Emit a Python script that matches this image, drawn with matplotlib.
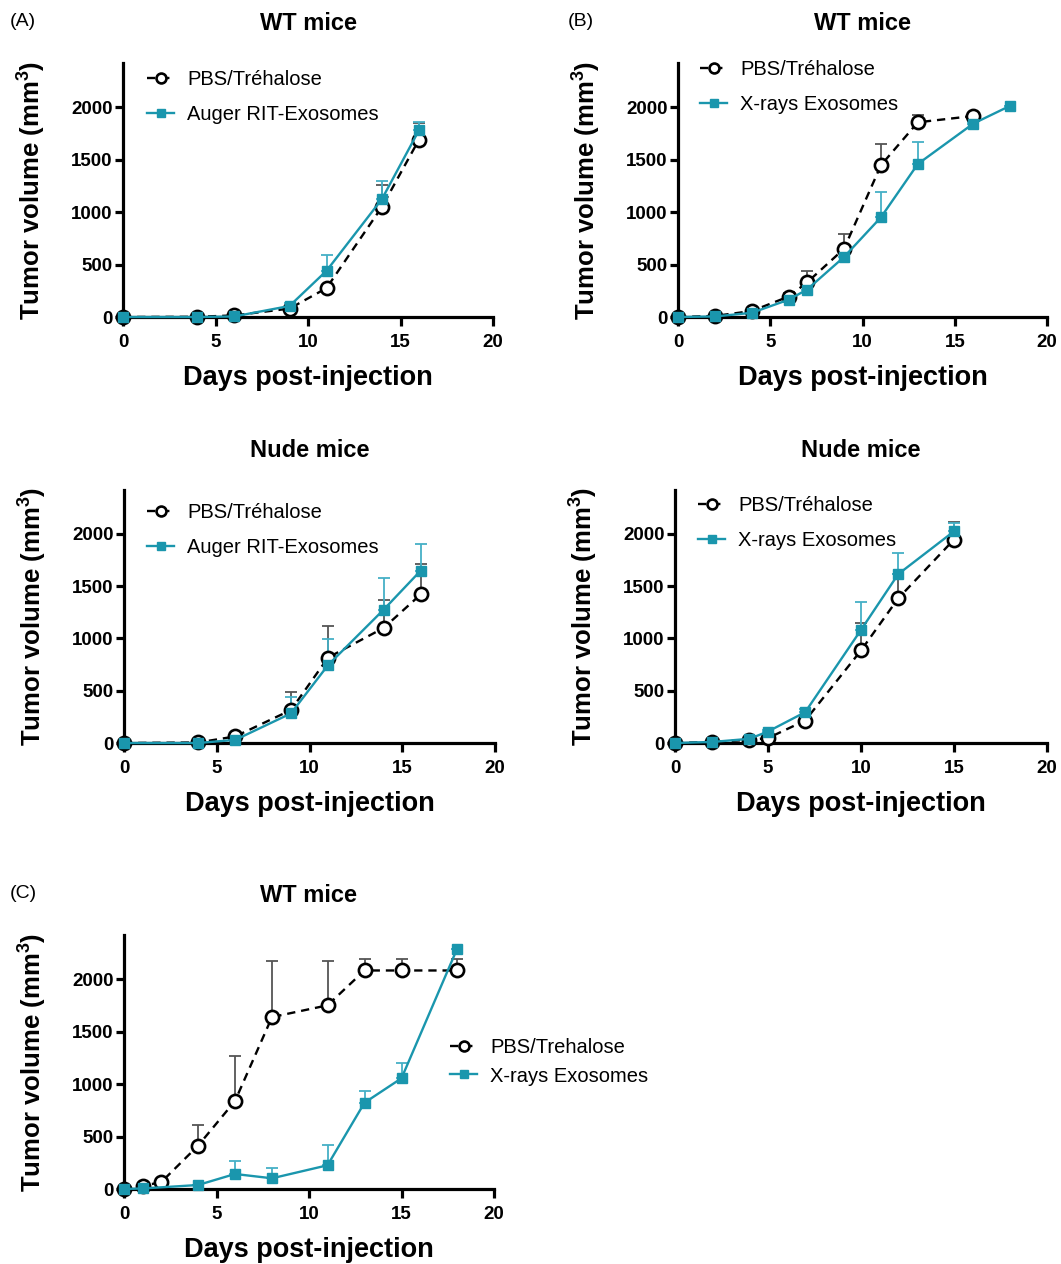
import matplotlib
matplotlib.use("Agg")
import matplotlib.pyplot as plt
import numpy as np

plt.rcParams['font.family'] = ['Liberation Sans', 'DejaVu Sans']
plt.rcParams['mathtext.fontset'] = 'custom'
plt.rcParams['mathtext.rm'] = 'Liberation Sans'
plt.rcParams['mathtext.bf'] = 'Liberation Sans:bold'

# ---------------- data ----------------
# Panel A top: WT mice, Auger RIT-Exosomes
a1_days_pbs = [0, 4, 6, 9, 11, 14, 16]
a1_pbs = [0, 2, 15, 80, 275, 1050, 1690]
a1_pbs_top = [0, 2, 15, 95, 300, 1255, 1850]
a1_days_trt = [0, 4, 6, 9, 11, 14, 16]
a1_trt = [0, 0, 5, 105, 440, 1125, 1780]
a1_trt_top = [0, 0, 5, 130, 590, 1295, 1862]

# Panel B top: WT mice, X-rays Exosomes
b1_days_pbs = [0, 2, 4, 6, 7, 9, 11, 13, 16]
b1_pbs = [0, 10, 57, 195, 330, 650, 1446, 1855, 1915]
b1_pbs_top = [0, 10, 65, 225, 434, 791, 1650, 1921, 1930]
b1_days_trt = [0, 2, 4, 6, 7, 9, 11, 13, 16, 18]
b1_trt = [0, 5, 40, 165, 262, 572, 950, 1458, 1842, 2012]
b1_trt_top = [0, 5, 45, 180, 300, 620, 1195, 1665, 1860, 2015]

# Panel A middle: Nude mice, Auger RIT-Exosomes
a2_days_pbs = [0, 4, 6, 9, 11, 14, 16]
a2_pbs = [0, 5, 63, 315, 817, 1101, 1422]
a2_pbs_top = [0, 5, 70, 490, 1122, 1369, 1716]
a2_days_trt = [0, 4, 6, 9, 11, 14, 16]
a2_trt = [0, 0, 30, 283, 745, 1276, 1650]
a2_trt_top = [0, 0, 35, 442, 998, 1574, 1905]

# Panel B middle: Nude mice, X-rays Exosomes
b2_days_pbs = [0, 2, 4, 5, 7, 10, 12, 15]
b2_pbs = [0, 10, 30, 47, 215, 885, 1383, 1946]
b2_pbs_top = [0, 10, 35, 55, 230, 1149, 1620, 2111]
b2_days_trt = [0, 2, 4, 5, 7, 10, 12, 15]
b2_trt = [0, 10, 40, 110, 295, 1082, 1615, 2025]
b2_trt_top = [0, 10, 45, 120, 325, 1345, 1820, 2100]

# Panel C: WT mice, X-rays Exosomes
c_days_pbs = [0, 1, 2, 4, 6, 8, 11, 13, 15, 18]
c_pbs = [0, 32, 63, 412, 838, 1638, 1750, 2082, 2082, 2082]
c_pbs_top = [0, 32, 63, 610, 1268, 2168, 2168, 2188, 2188, 2188]
c_days_trt = [0, 1, 4, 6, 8, 11, 13, 15, 18]
c_trt = [0, 5, 38, 143, 102, 226, 822, 1055, 2286]
c_trt_top = [0, 5, 38, 264, 200, 415, 936, 1200, 2286]

xticks = [0, 5, 10, 15, 20]
yticks = [0, 500, 1000, 1500, 2000]

W, H = 1061, 1264
TEAL = '#1a96ad'
TEAL_ERR = '#45b0c6'
GRAY_ERR = '#555555'

fig = plt.figure(figsize=(W / 100, H / 100), dpi=100)


def make_ax(left, right, top, zero):
    return fig.add_axes([left / W, 1 - zero / H, (right - left) / W, (zero - top) / H])


def draw(ax, dp, vp, tp, dt, vt, tt, pbs_label, trt_label, title,
         leg_x, leg_y, leg_space):
    dp = np.array(dp); vp = np.array(vp, float); tp = np.array(tp, float)
    dt = np.array(dt); vt = np.array(vt, float); tt = np.array(tt, float)
    ax.errorbar(dp, vp, yerr=[np.zeros_like(vp), tp - vp], fmt='none',
                ecolor=GRAY_ERR, elinewidth=1.3, capsize=4.5, capthick=1.3,
                zorder=2, clip_on=False)
    ax.errorbar(dt, vt, yerr=[np.zeros_like(vt), tt - vt], fmt='none',
                ecolor=TEAL_ERR, elinewidth=1.3, capsize=4.5, capthick=1.3,
                zorder=2, clip_on=False)
    ax.plot(dp, vp, linestyle=(0, (3.5, 2.5)), color='black', lw=1.7,
            marker='o', ms=9.5, mfc='white', mec='black', mew=1.9,
            label=pbs_label, zorder=3, clip_on=False)
    ax.plot(dt, vt, linestyle='-', color=TEAL, lw=1.7,
            marker='s', ms=7.5, mfc=TEAL, mec=TEAL,
            label=trt_label, zorder=4, clip_on=False)
    ax.set_xlim(0, 20)
    ax.set_ylim(0, 2420)
    ax.set_xticks(xticks)
    ax.set_yticks(yticks)
    for s in ['top', 'right']:
        ax.spines[s].set_visible(False)
    for s in ['left', 'bottom']:
        ax.spines[s].set_linewidth(2.3)
    ax.tick_params(axis='x', width=2.3, length=6.5, labelsize=13.5, pad=5.5)
    ax.tick_params(axis='y', width=2.3, length=5.5, labelsize=13.5, pad=2)
    for lab in ax.get_xticklabels() + ax.get_yticklabels():
        lab.set_fontweight('bold')
    ax.set_xlabel('Days post-injection', fontsize=19.5, fontweight='bold')
    ax.set_ylabel(r'Tumor volume (mm$^{\mathbf{3}}$)', fontsize=18.5,
                  fontweight='bold')
    ax.xaxis.set_label_coords(0.5, -0.19)
    ax.yaxis.set_label_coords(-0.205, 0.5)
    ax.text(0.5, 1 + 40 / 254, title, transform=ax.transAxes, ha='center',
            va='center', fontsize=17, fontweight='bold')
    ax.legend(loc='center left', bbox_to_anchor=(leg_x / W, 1 - leg_y / H),
              bbox_transform=fig.transFigure, frameon=False, fontsize=14.5,
              borderpad=0, borderaxespad=0, handlelength=1.35,
              handletextpad=0.65, labelspacing=leg_space, markerscale=0.75,
              numpoints=1)


axA1 = make_ax(123, 493, 63, 317)
draw(axA1, a1_days_pbs, a1_pbs, a1_pbs_top, a1_days_trt, a1_trt, a1_trt_top,
     'PBS/Tréhalose', 'Auger RIT-Exosomes', 'WT mice', 147, 97, 0.75)

axB1 = make_ax(678, 1047, 63, 317)
draw(axB1, b1_days_pbs, b1_pbs, b1_pbs_top, b1_days_trt, b1_trt, b1_trt_top,
     'PBS/Tréhalose', 'X-rays Exosomes', 'WT mice', 700, 87, 0.75)

axA2 = make_ax(124, 495, 490, 743)
draw(axA2, a2_days_pbs, a2_pbs, a2_pbs_top, a2_days_trt, a2_trt, a2_trt_top,
     'PBS/Tréhalose', 'Auger RIT-Exosomes', 'Nude mice', 147, 530, 0.75)

axB2 = make_ax(675, 1047, 490, 743)
draw(axB2, b2_days_pbs, b2_pbs, b2_pbs_top, b2_days_trt, b2_trt, b2_trt_top,
     'PBS/Tréhalose', 'X-rays Exosomes', 'Nude mice', 698, 523, 0.75)

axC = make_ax(124, 494, 935, 1189)
draw(axC, c_days_pbs, c_pbs, c_pbs_top, c_days_trt, c_trt, c_trt_top,
     'PBS/Trehalose', 'X-rays Exosomes', 'WT mice', 450, 1062, 0.45)

fig.text(10 / W, 1 - 22 / H, '(A)', fontsize=14, va='center', ha='left')
fig.text(568 / W, 1 - 22 / H, '(B)', fontsize=14, va='center', ha='left')
fig.text(10 / W, 1 - 893 / H, '(C)', fontsize=14, va='center', ha='left')

fig.savefig('out.png', dpi=100)
